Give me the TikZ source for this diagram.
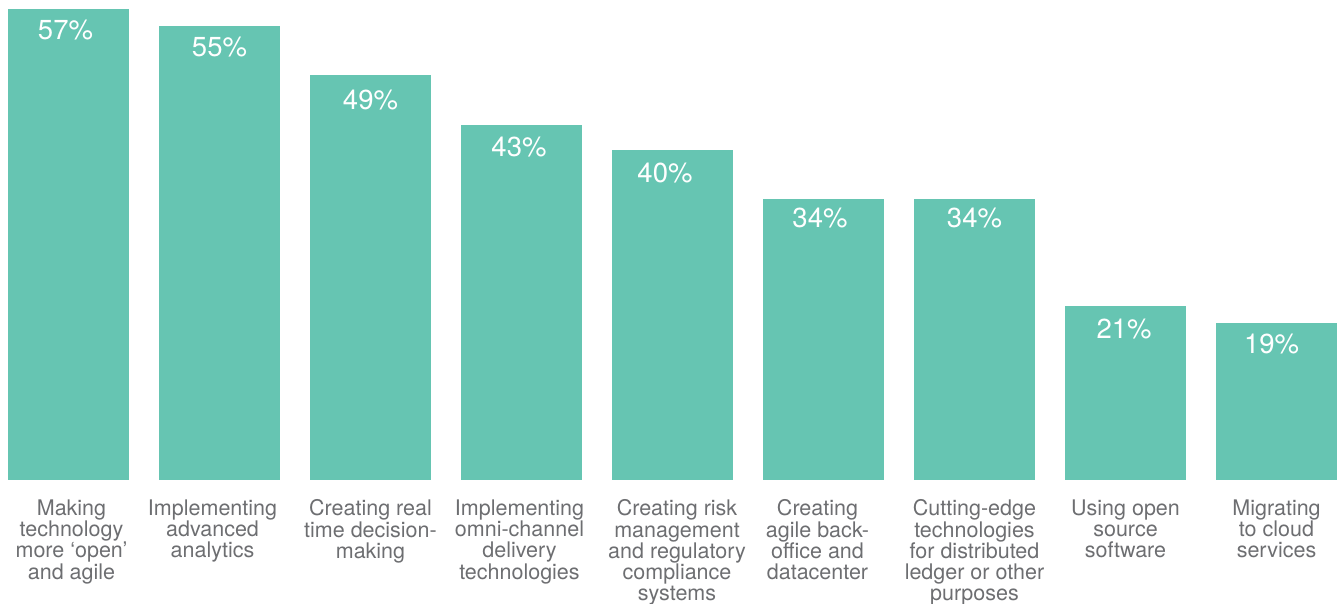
\documentclass[tikz,border=0pt]{standalone}
\usepackage{fontspec}
\setmainfont{TeX Gyre Heros}
\usetikzlibrary{positioning}
\definecolor{barteal}{HTML}{66C5B2}
\definecolor{labelgrey}{HTML}{6D6E71}
\tikzset{
	bar/.style={fill=barteal, draw=none, inner sep=0pt, minimum width=121pt, anchor=south},
	pct/.style={text=white, font=\fontsize{27.5}{30}\selectfont, anchor=base, inner sep=0pt},
	lbl/.style={text=labelgrey, font=\fontsize{21.5}{21.3}\selectfont, align=center, anchor=north, inner sep=0pt}
}

\begin{document}
\begin{tikzpicture}[x=1pt, y=-1pt]
			\useasboundingbox (0,0) rectangle (1338,603);
			% bars
			\node[bar, minimum height=471pt] (b1) at (68.5,480) {};
			\node[bar, minimum height=454pt] (b2) at (219.5,480) {};
			\node[bar, minimum height=405pt] (b3) at (370.5,480) {};
			\node[bar, minimum height=355pt] (b4) at (521.5,480) {};
			\node[bar, minimum height=330pt] (b5) at (672.5,480) {};
			\node[bar, minimum height=281pt] (b6) at (823.5,480) {};
			\node[bar, minimum height=281pt] (b7) at (974.5,480) {};
			\node[bar, minimum height=174pt] (b8) at (1125.5,480) {};
			\node[bar, minimum height=157pt] (b9) at (1276.5,480) {};
			% values
			\node[pct] (p1) at ([xshift=-3pt, yshift=-31pt]b1.north) {57\%};
			\node[pct] (p2) at ([yshift=-31pt]b2.north) {55\%};
			\node[pct] (p3) at ([yshift=-35pt]b3.north) {49\%};
			\node[pct] (p4) at ([xshift=-2.5pt, yshift=-31.7pt]b4.north) {43\%};
			\node[pct] (p5) at ([xshift=-7.5pt, yshift=-32.7pt]b5.north) {40\%};
			\node[pct] (p6) at ([xshift=-3.5pt, yshift=-29.3pt]b6.north) {34\%};
			\node[pct] (p7) at ([yshift=-29.3pt]b7.north) {34\%};
			\node[pct] (p8) at ([xshift=-1.5pt, yshift=-33pt]b8.north) {21\%};
			\node[pct] (p9) at ([xshift=-5pt, yshift=-30.7pt]b9.north) {19\%};
			% categories
			\node[lbl] (l1) at ([xshift=3pt, yshift=-19.5pt]b1.south) {Making\\technology\\more ‘open’\\and agile};
			\node[lbl] (l2) at ([xshift=-7pt, yshift=-19.5pt]b2.south) {Implementing\\advanced\\analytics};
			\node[lbl] (l3) at ([yshift=-19.5pt]b3.south) {Creating real\\time decision-\\making};
			\node[lbl] (l4) at ([xshift=-2pt, yshift=-19.5pt]b4.south) {Implementing\\omni-channel\\delivery\\technologies};
			\node[lbl] (l5) at ([xshift=4.5pt, yshift=-19.5pt]b5.south) {Creating risk\\management\\and regulatory\\compliance\\systems};
			\node[lbl] (l6) at ([xshift=-6pt, yshift=-19.5pt]b6.south) {Creating\\agile back-\\office and\\datacenter};
			\node[lbl] (l7) at ([yshift=-19.5pt]b7.south) {Cutting-edge\\technologies\\for distributed\\ledger or other\\purposes};
			\node[lbl] (l8) at ([yshift=-19.5pt]b8.south) {Using open\\source\\software};
			\node[lbl] (l9) at ([yshift=-19.5pt]b9.south) {Migrating\\to cloud\\services};
		\end{tikzpicture}
\end{document}
